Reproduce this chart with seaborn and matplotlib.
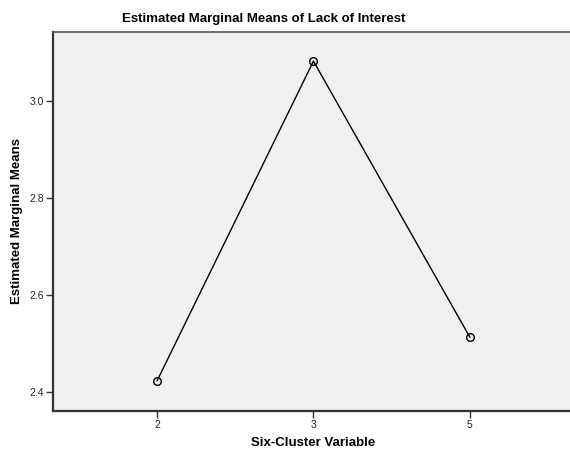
import matplotlib
matplotlib.use("Agg")
import matplotlib.pyplot as plt
import seaborn as sns
import pandas as pd

# values
clusters = ["2", "3", "5"]
means = [2.423, 3.082, 2.513]
y_ticks = [2.4, 2.6, 2.8, 3.0]

sns.set_theme(style="white")
plt.rcParams["font.family"] = ["Liberation Sans", "DejaVu Sans"]

df = pd.DataFrame({"cluster": clusters, "mean": means})

fig = plt.figure(figsize=(5.7, 4.53), dpi=100)
fig.patch.set_facecolor("white")
ax = fig.add_axes([53 / 570, 1 - 411 / 453, 1 - 53 / 570, (411 - 32) / 453])
ax.set_facecolor("#F0F0F0")

sns.pointplot(data=df, x="cluster", y="mean", color="black", errorbar=None,
              marker="o", markerfacecolor="none", markeredgecolor="black",
              markersize=5.5, markeredgewidth=1.0, linewidth=1.0, ax=ax)

ax.set_xlim(-0.665, 2.64)
ax.set_ylim(2.361, 3.142)
ax.set_yticks(y_ticks)
ax.set_yticklabels([f"{v:.1f}" for v in y_ticks])

for side in ["left", "bottom"]:
    ax.spines[side].set_color("#333333")
    ax.spines[side].set_linewidth(1.6)
ax.spines["top"].set_color("#555555")
ax.spines["top"].set_linewidth(1.2)
ax.spines["right"].set_visible(False)

ax.tick_params(axis="both", which="both", direction="out", length=5, width=1,
               color="#333333", labelsize=7.5, labelcolor="#222222", pad=1.5)
ax.tick_params(bottom=True, left=True)

ax.set_xlabel("")
ax.set_ylabel("")
fig.text(264 / 570, 1 - 19 / 453, "Estimated Marginal Means of Lack of Interest",
         ha="center", va="center", fontsize=9.5, fontweight="bold", color="black")
fig.text(313 / 570, 1 - 443 / 453, "Six-Cluster Variable",
         ha="center", va="center", fontsize=9.5, fontweight="bold", color="black")
fig.text(17 / 570, 1 - 221 / 453, "Estimated Marginal Means", rotation=90,
         ha="center", va="center", fontsize=9.5, fontweight="bold", color="black")

fig.savefig("out.png", dpi=100)
